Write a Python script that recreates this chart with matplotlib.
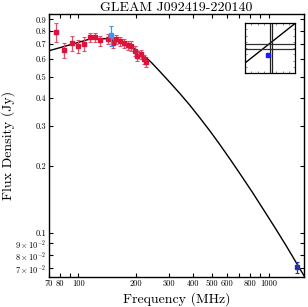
import matplotlib
matplotlib.use("Agg")
import matplotlib.pyplot as plt
import numpy as np

# GLEAM sub-band fluxes
gleam_freq = [76, 84, 92, 99, 107, 115, 122, 130, 143, 151, 158, 166, 174,
              181, 189, 197, 204, 212, 220, 227]
gleam_flux = [0.792, 0.656, 0.703, 0.682, 0.698, 0.748, 0.748, 0.725, 0.735,
              0.708, 0.732, 0.718, 0.703, 0.690, 0.685, 0.651, 0.617, 0.628,
              0.596, 0.582]
gleam_err = [0.078, 0.050, 0.053, 0.045, 0.050, 0.038, 0.038, 0.037, 0.036,
             0.036, 0.035, 0.035, 0.034, 0.034, 0.033, 0.032, 0.031, 0.031,
             0.030, 0.029]

# other surveys
tgss_freq = [148]
tgss_flux = [0.763]
tgss_err = [0.075]

nvss_freq = [1400]
nvss_flux = [0.0703]
nvss_err = [0.0038]

# fitted model
fit_freq = [70, 80, 93, 114, 140, 170, 200, 220, 240, 267, 300, 340, 385,
            433, 490, 550, 630, 718, 820, 950, 1090, 1239, 1530]
fit_flux = [0.652, 0.673, 0.698, 0.734, 0.738, 0.710, 0.660, 0.621, 0.581,
            0.528, 0.474, 0.421, 0.372, 0.328, 0.286, 0.250, 0.212, 0.180,
            0.152, 0.125, 0.104, 0.0872, 0.0645]

xticks = [70, 80, 100, 200, 300, 400, 500, 600, 800, 1000]
yticks = [0.07, 0.08, 0.09, 0.1, 0.2, 0.3, 0.4, 0.5, 0.6, 0.7, 0.8, 0.9]
ylabels = [r'$7\times10^{-2}$', r'$8\times10^{-2}$', r'$9\times10^{-2}$',
           '0.1', '0.2', '0.3', '0.4', '0.5', '0.6', '0.7', '0.8', '0.9']

plt.rcParams['font.family'] = 'serif'
plt.rcParams['font.serif'] = ['cmr10', 'DejaVu Serif']
plt.rcParams['mathtext.fontset'] = 'cm'
plt.rcParams['axes.unicode_minus'] = False


def main():
    fig = plt.figure(figsize=(3.08, 3.07), dpi=100)
    ax = fig.add_axes([0.159, 0.098, 0.828, 0.856])
    ax.set_xscale('log')
    ax.set_yscale('log')

    ax.plot(fit_freq, fit_flux, '-', color='black', lw=1.0, zorder=2)

    ax.errorbar(gleam_freq, gleam_flux, yerr=gleam_err, fmt='s', ms=3,
                color='#dc143c', ecolor='#e0506a', elinewidth=0.9,
                capsize=1.5, capthick=0.8, zorder=3)
    ax.errorbar(tgss_freq, tgss_flux, yerr=tgss_err, fmt='s', ms=3.2,
                color='#3399ff', ecolor='#3399ff', elinewidth=0.9,
                capsize=1.5, capthick=0.8, zorder=4)
    ax.errorbar(nvss_freq, nvss_flux, yerr=nvss_err, fmt='s', ms=2.6,
                color='#2233aa', ecolor='#2233aa', elinewidth=0.9,
                capsize=1.5, capthick=0.8, zorder=4)

    ax.set_xlim(70, 1530)
    ax.set_ylim(0.0637, 0.95)

    ax.xaxis.set_major_locator(matplotlib.ticker.FixedLocator(xticks))
    ax.xaxis.set_major_formatter(matplotlib.ticker.FixedFormatter([str(t) for t in xticks]))
    ax.xaxis.set_minor_locator(matplotlib.ticker.FixedLocator([90, 700, 900]))
    ax.xaxis.set_minor_formatter(matplotlib.ticker.NullFormatter())
    ax.yaxis.set_major_locator(matplotlib.ticker.FixedLocator(yticks))
    ax.yaxis.set_major_formatter(matplotlib.ticker.FixedFormatter(ylabels))
    ax.yaxis.set_minor_locator(matplotlib.ticker.NullLocator())
    ax.tick_params(which='both', direction='in', top=True, right=True,
                   labelsize=6, length=3, width=0.8, pad=2)
    for s in ax.spines.values():
        s.set_linewidth(1.0)

    ax.set_title('GLEAM J092419-220140', fontsize=10, pad=2)
    ax.set_xlabel('Frequency (MHz)', fontsize=10, labelpad=3)
    ax.set_ylabel('Flux Density (Jy)', fontsize=10)
    ax.yaxis.set_label_coords(-0.135, 0.5)

    # position inset
    ins = fig.add_axes([245 / 308, 1 - 73 / 307, 50 / 308, 50 / 307])
    ins.set_xlim(0, 1)
    ins.set_ylim(0, 1)
    ins.plot([0.0, 1.0], [0.2, 0.99], '-', color='black', lw=1.0)
    ins.axhline(0.59, color='#333333', lw=0.9)
    ins.axhline(0.49, color='#333333', lw=0.9)
    ins.axvline(0.49, color='#222222', lw=0.9)
    ins.axvline(0.53, color='#222222', lw=0.9)
    ins.plot([0.45], [0.37], 's', color='#1a1aff', ms=2.5)
    ins.set_xticks(np.linspace(0, 1, 9))
    ins.set_yticks(np.linspace(0, 1, 9))
    ins.set_xticklabels([])
    ins.set_yticklabels([])
    ins.tick_params(direction='in', top=True, right=True, length=1.5,
                    width=0.5, color='#555555')
    for s in ins.spines.values():
        s.set_linewidth(0.9)

    fig.savefig('out.png', dpi=100)


if __name__ == "__main__":
    main()
